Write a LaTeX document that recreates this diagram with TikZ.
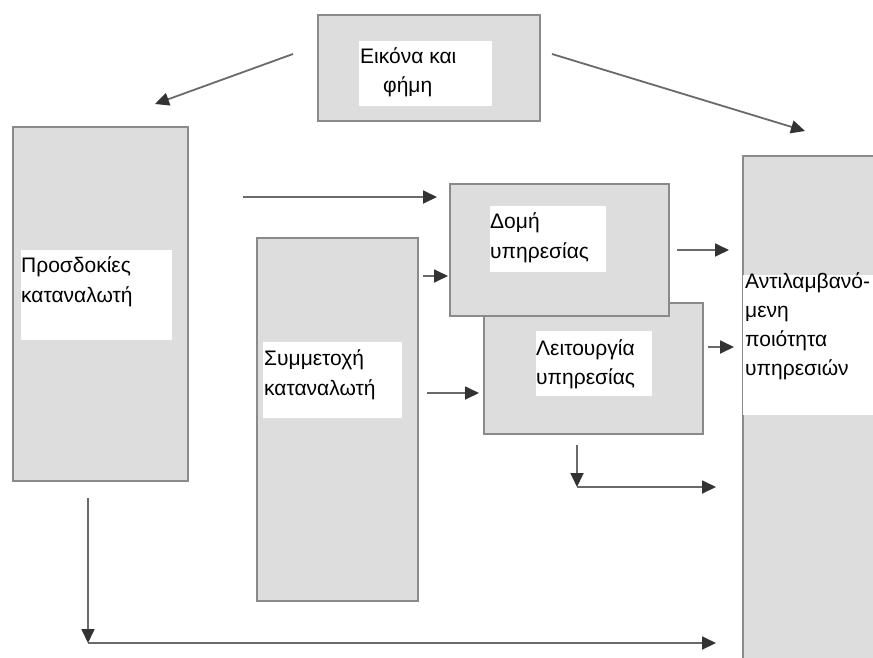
\documentclass[tikz,border=0pt]{standalone}
\usepackage{fontspec}
\setmainfont{Liberation Sans}
\usetikzlibrary{arrows.meta}
\definecolor{panelfill}{HTML}{DDDDDD}
\definecolor{panelline}{HTML}{8A8A8A}
\definecolor{linegray}{HTML}{6A6A6A}
\definecolor{tipgray}{HTML}{333333}
\tikzset{
  panel/.style={draw=panelline, fill=panelfill, line width=2pt, inner sep=0pt, anchor=north west},
  whitelabel/.style={fill=white, draw=none},
  txt/.style={anchor=base west, inner sep=0pt, text=black, font=\fontsize{21}{29}\selectfont},
  link/.style={draw=linegray, line width=1.8pt, -{Triangle[length=14pt,width=13pt,color=tipgray]}},
}
\begin{document}
\begin{tikzpicture}[x=1pt,y=-1pt]
\useasboundingbox (0,0) rectangle (873,657);
\clip (0,0) rectangle (873,657);
\fill[white] (0,0) rectangle (873,657);

% image and reputation
\node[panel, minimum width=222pt, minimum height=106pt] (img) at (317,14) {};
\fill[whitelabel] (359,41) rectangle (492,106);
\node[txt] (img1) at (360,63) {Εικόνα και};
\node[txt] (img2) at (383,92) {φήμη};

% consumer expectations
\node[panel, minimum width=175pt, minimum height=354pt] (exp) at (12,126) {};
\fill[whitelabel] (21,250) rectangle (172,340);
\node[txt] (exp1) at (21,272) {Προσδοκίες};
\node[txt] (exp2) at (21,302) {καταναλωτή};

% consumer participation
\node[panel, minimum width=161pt, minimum height=363pt] (par) at (256,237) {};
\fill[whitelabel] (263,342) rectangle (402,418);
\node[txt] (par1) at (264,365) {Συμμετοχή};
\node[txt] (par2) at (264,395) {καταναλωτή};

% service operation (behind)
\node[panel, minimum width=219pt, minimum height=131pt] (ops) at (483,302) {};
\fill[whitelabel] (536,331) rectangle (652,396);
\node[txt] (ops1) at (536,355) {Λειτουργία};
\node[txt] (ops2) at (536,384) {υπηρεσίας};

% service structure (front)
\node[panel, minimum width=219pt, minimum height=132pt] (str) at (449,183) {};
\fill[whitelabel] (490,206) rectangle (606,272);
\node[txt] (str1) at (490,228) {Δομή};
\node[txt] (str2) at (490,258) {υπηρεσίας};

% perceived service quality
\node[panel, minimum width=160pt, minimum height=525pt] (qual) at (742,155) {};
\fill[whitelabel] (743,275) rectangle (873,415);
\node[txt] (q1) at (745,288) {Αντιλαμβανό-};
\node[txt] (q2) at (745,317) {μενη};
\node[txt] (q3) at (745,346) {ποιότητα};
\node[txt] (q4) at (745,375) {υπηρεσιών};

% connector end points
\coordinate (a1s) at (293,54);  \coordinate (a1e) at (155,104);
\coordinate (a2s) at (552,54);  \coordinate (a2e) at (805,131);
\coordinate (a3s) at (243,197); \coordinate (a3e) at (437,197);
\coordinate (a4s) at (423,276); \coordinate (a4e) at (448,276);
\coordinate (a5s) at (427,393); \coordinate (a5e) at (479,393);
\coordinate (a6s) at (677,250); \coordinate (a6e) at (729,250);
\coordinate (a7s) at (708,347); \coordinate (a7e) at (734,347);
\coordinate (a8s) at (577,445); \coordinate (a8c) at (577,487); \coordinate (a8e) at (716,487);
\coordinate (a9s) at (88,498);  \coordinate (a9c) at (88,643);  \coordinate (a9e) at (716,643);

\draw[link] (a1s) -- (a1e);
\draw[link] (a2s) -- (a2e);
\draw[link] (a3s) -- (a3e);
\draw[link] (a4s) -- (a4e);
\draw[link] (a5s) -- (a5e);
\draw[link] (a6s) -- (a6e);
\draw[link] (a7s) -- (a7e);
\draw[link] (a8s) -- (a8c);
\draw[link] (a8c) -- (a8e);
\draw[link] (a9s) -- (a9c);
\draw[link] (a9c) -- (a9e);
\end{tikzpicture}
\end{document}
